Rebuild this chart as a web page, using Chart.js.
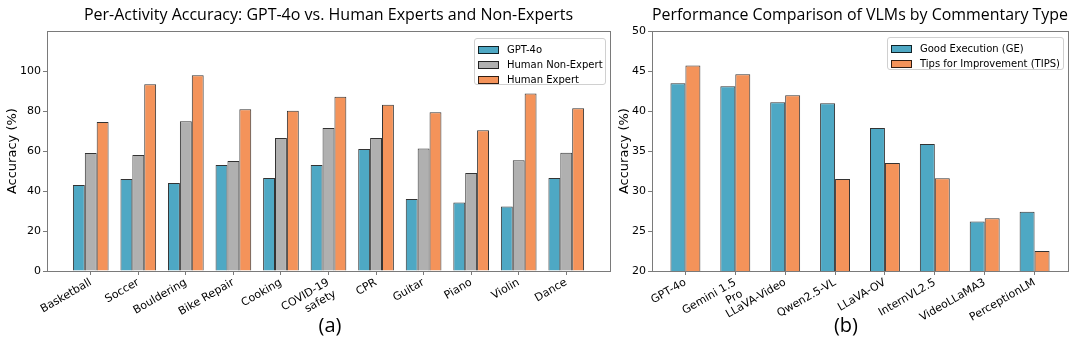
<!DOCTYPE html>
<html>
<head>
<meta charset="utf-8">
<script src="https://cdn.jsdelivr.net/npm/chart.js@4.4.1/dist/chart.umd.min.js"></script>
<style>
    html, body { margin: 0; padding: 0; background: #fff; }
    #wrap { position: relative; width: 1080px; height: 354px; overflow: hidden; }
    .box { position: absolute; top: 0; height: 354px; }
    .legend {
        position: absolute; background: rgba(255,255,255,0.85);
        border: 1px solid #d0d0d0; border-radius: 3px;
        font: 10px "DejaVu Sans", sans-serif; color: #000; box-sizing: border-box;
        padding: 3px 0 0 3px;
    }
    .legend div { height: 15px; line-height: 15px; white-space: nowrap; }
    .legend span {
        display: inline-block; width: 19px; height: 6px; margin-right: 8px;
        border: 1px solid rgba(0,0,0,0.8); vertical-align: -1px;
    }
    .caption {
        position: absolute; top: 313px; width: 100px; text-align: center;
        font: 20px "Open Sans", sans-serif; line-height: 24px; color: #000;
    }
</style>
</head>
<body>
<div id="wrap">
    <div class="box" style="left:0;width:612px"><canvas id="activityChart"></canvas></div>
    <div class="box" style="left:612px;width:468px"><canvas id="vlmChart"></canvas></div>
    <div class="legend" id="activityLegend" style="left:474px;top:38px;width:132px;height:47px"></div>
    <div class="legend" id="vlmLegend" style="left:887px;top:37px;width:177px;height:33px"></div>
    <div class="caption" style="left:280px">(a)</div>
    <div class="caption" style="left:796px">(b)</div>
</div>
<script>
// Panel (a): per-activity accuracy
const activities = ['Basketball', 'Soccer', 'Bouldering', 'Bike Repair', 'Cooking',
    ['COVID-19', 'safety'], 'CPR', 'Guitar', 'Piano', 'Violin', 'Dance'];
const gpt4oAcc     = [43, 46, 44, 53, 46.5, 53, 61, 36, 34.3, 32.3, 46.6];
const nonExpertAcc = [59, 58, 75, 55, 66.5, 71.5, 66.5, 61.3, 49.1, 55.4, 59.2];
const expertAcc    = [74.5, 93.5, 98, 81, 80.2, 87.2, 83.2, 79.5, 70.4, 88.8, 81.5];
const activityTicks = [0, 20, 40, 60, 80, 100];

// Panel (b): VLMs by commentary type
const models = ['GPT-4o', ['Gemini 1.5', 'Pro'], 'LLaVA-Video', 'Qwen2.5-VL', 'LLaVA-OV',
    'InternVL2.5', 'VideoLLaMA3', 'PerceptionLM'];
const goodExecution = [43.5, 43.1, 41.1, 41.0, 37.9, 35.9, 26.2, 27.4];
const tipsImprove   = [45.7, 44.6, 42.0, 31.5, 33.5, 31.6, 26.6, 22.5];
const vlmTicks = [20, 25, 30, 35, 40, 45, 50];

const BLUE = '#4ea8c4';
const GRAY = '#b0b0b0';
const ORANGE = '#f4935a';
const EDGE = 'rgba(0,0,0,0.8)';
const SPINE = '#7a7a7a';
const TICK_FONT = { family: 'DejaVu Sans', size: 11 };

Chart.defaults.animation = false;
Chart.defaults.color = '#000';

// matplotlib style box around the plot area
const frame = {
    id: 'frame',
    afterDraw(chart) {
        const a = chart.chartArea;
        const ctx = chart.ctx;
        ctx.save();
        ctx.strokeStyle = SPINE;
        ctx.lineWidth = 1;
        ctx.strokeRect(Math.round(a.left) + 0.5, Math.round(a.top) + 0.5,
            Math.round(a.right - a.left), Math.round(a.bottom - a.top));
        ctx.restore();
    }
};

function toPoints(values) {
    return values.map((v, i) => ({ x: i, y: v }));
}

function makeChart(id, opts) {
    const n = opts.labels.length;
    return new Chart(document.getElementById(id), {
        type: 'bar',
        data: {
            datasets: opts.series.map(s => ({
                label: s.label,
                data: toPoints(s.data),
                backgroundColor: s.color,
                borderColor: EDGE,
                borderWidth: 1,
                categoryPercentage: opts.groupWidth,
                barPercentage: 1
            }))
        },
        options: {
            responsive: true,
            maintainAspectRatio: false,
            layout: { padding: { left: 0, right: opts.padRight, top: 0, bottom: 0 } },
            plugins: {
                legend: { display: false },
                tooltip: { enabled: false },
                title: {
                    display: true,
                    fullSize: false,
                    text: opts.title,
                    color: '#000',
                    font: { family: 'Open Sans', size: 16, weight: 'normal' },
                    padding: { top: 6, bottom: 6 }
                }
            },
            scales: {
                x: {
                    type: 'linear',
                    min: -opts.margin,
                    max: n - 1 + opts.margin,
                    offset: false,
                    afterBuildTicks: axis => { axis.ticks = opts.labels.map((_, i) => ({ value: i })); },
                    afterFit: axis => { axis.height = 83; },
                    border: { display: false },
                    grid: { display: true, drawOnChartArea: false, drawTicks: true, tickLength: 4, color: SPINE, offset: false },
                    ticks: {
                        autoSkip: false,
                        minRotation: 30,
                        maxRotation: 30,
                        padding: 1,
                        font: TICK_FONT,
                        callback: v => opts.labels[v]
                    }
                },
                y: {
                    min: opts.yMin,
                    max: opts.yMax,
                    afterBuildTicks: axis => { axis.ticks = opts.yTicks.map(v => ({ value: v })); },
                    afterFit: axis => { axis.width = opts.yWidth; },
                    border: { display: false },
                    grid: { display: true, drawOnChartArea: false, drawTicks: true, tickLength: 4, color: SPINE },
                    ticks: { padding: 2, font: TICK_FONT },
                    title: {
                        display: true,
                        text: 'Accuracy (%)',
                        font: { family: 'DejaVu Sans', size: 13 },
                        padding: { top: 5, bottom: 0 }
                    }
                }
            }
        },
        plugins: [frame]
    });
}

function buildLegend(el, chart) {
    chart.data.datasets.forEach(ds => {
        const row = document.createElement('div');
        const sw = document.createElement('span');
        sw.style.background = ds.backgroundColor;
        row.appendChild(sw);
        row.appendChild(document.createTextNode(ds.label));
        el.appendChild(row);
    });
}

const activityChart = makeChart('activityChart', {
    title: 'Per-Activity Accuracy: GPT-4o vs. Human Experts and Non-Experts',
    labels: activities,
    series: [
        { label: 'GPT-4o', data: gpt4oAcc, color: BLUE },
        { label: 'Human Non-Expert', data: nonExpertAcc, color: GRAY },
        { label: 'Human Expert', data: expertAcc, color: ORANGE }
    ],
    groupWidth: 0.75,
    margin: 0.92,
    yMin: 0, yMax: 120, yTicks: activityTicks,
    yWidth: 47, padRight: 2
});

const vlmChart = makeChart('vlmChart', {
    title: 'Performance Comparison of VLMs by Commentary Type',
    labels: models,
    series: [
        { label: 'Good Execution (GE)', data: goodExecution, color: BLUE },
        { label: 'Tips for Improvement (TIPS)', data: tipsImprove, color: ORANGE }
    ],
    groupWidth: 0.6,
    margin: 0.67,
    yMin: 20, yMax: 50, yTicks: vlmTicks,
    yWidth: 40, padRight: 12
});

buildLegend(document.getElementById('activityLegend'), activityChart);
buildLegend(document.getElementById('vlmLegend'), vlmChart);
</script>
</body>
</html>
